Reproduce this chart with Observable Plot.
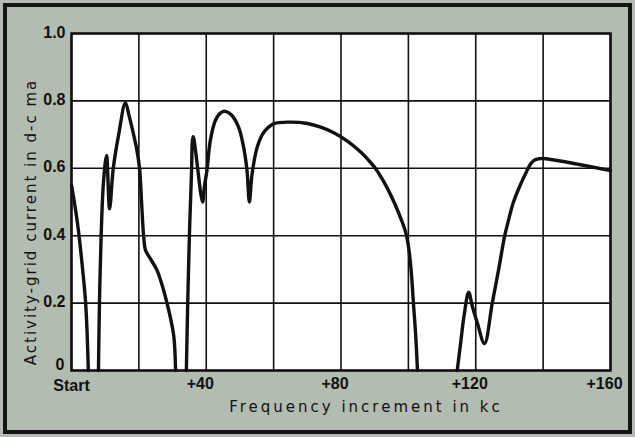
<!DOCTYPE html>
<html>
<head>
<meta charset="utf-8">
<script src="https://cdn.jsdelivr.net/npm/d3@7"></script>
<script src="https://cdn.jsdelivr.net/npm/@observablehq/plot@0.6"></script>
<style>
  html, body { margin: 0; padding: 0; background: #ffffff; }
  #chart svg { display: block; outline: 4px solid #151515; outline-offset: -7px; }
</style>
</head>
<body>
<div id="chart"></div>
<script>
// Segment 1: drop from start
const seg1Kc = [0, 1, 2, 3, 3.7, 4.2, 4.6, 5];
const seg1Ma = [0.55, 0.49, 0.42, 0.33, 0.26, 0.2, 0.12, 0];
// Segment 2
const seg2Kc = [8, 8.3, 8.8, 9.5, 10.4, 11.3, 12.4, 14, 16, 17, 18.2, 19.3, 20.2, 20.8, 21.4, 22, 23.4, 25.4, 27, 28.4, 29.5, 30.4, 30.9];
const seg2Ma = [0, 0.2, 0.4, 0.56, 0.638, 0.48, 0.6, 0.7, 0.795, 0.76, 0.71, 0.66, 0.6, 0.5, 0.4, 0.356, 0.332, 0.297, 0.25, 0.198, 0.15, 0.099, 0];
// Segment 3
const seg3Kc = [34.1, 34.5, 35, 35.6, 36.1, 38.9, 39.5, 40.2, 41.2, 42.7, 44.2, 45.7, 47.5, 49.6, 51.1, 52.1, 52.8, 53.6, 55.1, 57.1, 60, 65, 70, 74, 78, 82, 86, 88, 90.2, 92, 94, 96, 98, 99.2, 100, 100.8, 101.5, 102.2, 102.7];
const seg3Ma = [0, 0.2, 0.4, 0.58, 0.694, 0.5, 0.55, 0.593, 0.682, 0.742, 0.764, 0.769, 0.758, 0.722, 0.662, 0.593, 0.5, 0.583, 0.662, 0.707, 0.732, 0.737, 0.733, 0.722, 0.705, 0.68, 0.647, 0.626, 0.6, 0.572, 0.536, 0.494, 0.445, 0.41, 0.37, 0.3, 0.2, 0.1, 0];
// Segment 4
const seg4Kc = [114.5, 115.5, 116.5, 117.9, 119, 120.5, 122.6, 124.9, 126.8, 128.6, 129.7, 131.2, 133.2, 135.2, 136.2, 137.2, 138.5, 140, 160];
const seg4Ma = [0, 0.08, 0.16, 0.232, 0.19, 0.14, 0.08, 0.2, 0.3, 0.4, 0.445, 0.5, 0.55, 0.593, 0.612, 0.623, 0.628, 0.629, 0.593];

const xGrid = [0, 20, 40, 60, 80, 100, 120, 140, 160];
const yGrid = [0, 0.2, 0.4, 0.6, 0.8, 1.0];
const xTicks = [0, 40, 80, 120, 160];
const xTickLabels = ["Start", "+40", "+80", "+120", "+160"];
const yTicks = [0, 0.2, 0.4, 0.6, 0.8, 1.0];
const yTickLabels = ["0", "0.2", "0.4", "0.6", "0.8", "1.0"];
const xTitle = "Frequency increment in kc";
const yTitle = "Activity-grid current in d-c ma";

const segments = [[seg1Kc, seg1Ma], [seg2Kc, seg2Ma], [seg3Kc, seg3Ma], [seg4Kc, seg4Ma]];
const rows = segments.flatMap(([kc, ma], s) => kc.map((k, i) => ({kc: k, ma: ma[i], seg: s})));

const xFmt = d => xTickLabels[xTicks.indexOf(d)];
const yFmt = d => yTickLabels[yTicks.findIndex(t => Math.abs(t - d) < 1e-9)];

const chart = Plot.plot({
  width: 635,
  height: 437,
  marginLeft: 71,
  marginRight: 25,
  marginTop: 33,
  marginBottom: 67,
  x: {domain: [0, 160]},
  y: {domain: [0, 1]},
  style: {
    background: "#b2bcb0",
    fontFamily: "Liberation Sans, Arial, sans-serif",
    fontSize: "16px",
    fontWeight: "bold",
    color: "#111"
  },
  marks: [
    Plot.frame({fill: "white", stroke: "none"}),
    Plot.ruleX(xGrid, {stroke: "#111", strokeWidth: 1.6}),
    Plot.ruleY(yGrid, {stroke: "#111", strokeWidth: 1.6}),
    Plot.line(rows, {x: "kc", y: "ma", z: "seg", curve: "catmull-rom", stroke: "#111", strokeWidth: 3.4, strokeLinejoin: "round", strokeLinecap: "round"}),
    Plot.frame({stroke: "#111", strokeWidth: 2.5}),
    Plot.axisX({ticks: [0], tickFormat: xFmt, tickSize: 0, tickPadding: 9, label: null}),
    Plot.axisX({ticks: xTicks.slice(1), tickFormat: xFmt, tickSize: 0, tickPadding: 7, dx: -6, label: null}),
    Plot.axisY({ticks: [0], tickFormat: yFmt, tickSize: 0, tickPadding: 7, dy: -6, label: null}),
    Plot.axisY({ticks: yTicks.slice(1), tickFormat: yFmt, tickSize: 0, tickPadding: 6, dy: -1, label: null}),
    Plot.text([xTitle], {frameAnchor: "bottom", textAnchor: "middle", lineAnchor: "middle", dx: 25, dy: 37, fontFamily: "DejaVu Sans", fontWeight: "normal", fontSize: 15}),
    Plot.text([yTitle], {frameAnchor: "left", textAnchor: "middle", lineAnchor: "middle", rotate: -90, dx: -40, dy: 20, fontFamily: "DejaVu Sans", fontWeight: "normal", fontSize: 15})
  ]
});

d3.select(chart).selectAll("text").each(function() {
  const t = this.textContent;
  if (t === xTitle) this.style.letterSpacing = "3px";
  if (t === yTitle) this.style.letterSpacing = "2px";
});

document.getElementById("chart").appendChild(chart);
</script>
</body>
</html>
